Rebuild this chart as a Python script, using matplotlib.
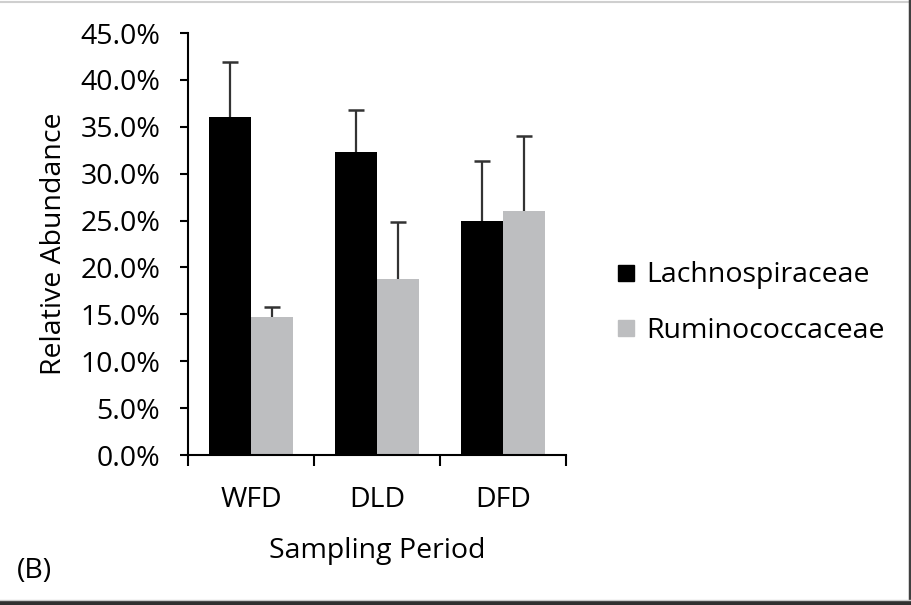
import matplotlib.pyplot as plt
from matplotlib.lines import Line2D
import numpy as np

# Relative abundance of the two families per sampling period (fractions)
periods = ['WFD', 'DLD', 'DFD']
lachno = [0.360, 0.323, 0.250]
lachno_err = [0.059, 0.045, 0.063]
rumino = [0.147, 0.188, 0.260]
rumino_err = [0.011, 0.060, 0.080]
yticks = [0.0, 0.05, 0.10, 0.15, 0.20, 0.25, 0.30, 0.35, 0.40, 0.45]

plt.rcParams['font.family'] = ['Open Sans', 'DejaVu Sans']
FS = 20.5

fig = plt.figure(figsize=(9.12, 6.05), dpi=100)
ax = fig.add_axes([188 / 912, 150 / 605, 378 / 912, 422 / 605])

x = np.arange(len(periods))
w = 1 / 3
err_kw = dict(ecolor='#333333', elinewidth=1.6, capsize=5.8, capthick=1.8)
b1 = ax.bar(x - w / 2, lachno, w, color='black',
            yerr=[np.zeros(3), lachno_err], error_kw=err_kw)
b2 = ax.bar(x + w / 2, rumino, w, color='#bdbec0',
            yerr=[np.zeros(3), rumino_err], error_kw=err_kw)
# only the upper half of each error bar gets a cap
for b in (b1, b2):
    b.errorbar.lines[1][0].set_visible(False)

ax.set_xlim(-0.5, 2.5)
ax.set_ylim(0, 0.45)
ax.set_yticks(yticks)
ax.set_yticklabels(['%.1f%%' % (v * 100) for v in yticks], fontsize=FS)
ax.set_xticks([-0.5, 0.5, 1.5, 2.5])
ax.set_xticklabels([])
ax.set_xticks(x, minor=True)
ax.set_xticklabels(periods, minor=True, fontsize=FS)
ax.tick_params(axis='x', which='minor', length=0, pad=22)
ax.tick_params(axis='x', which='major', direction='out', length=8, width=1.5)
ax.tick_params(axis='y', direction='out', length=6, width=1.5, pad=14)

for side in ['top', 'right']:
    ax.spines[side].set_visible(False)
for side in ['left', 'bottom']:
    ax.spines[side].set_linewidth(1.5)

ax.set_ylabel('Relative Abundance', fontsize=FS, labelpad=9)
ax.set_xlabel('Sampling Period', fontsize=FS, labelpad=17)

handles = [Line2D([], [], marker='s', linestyle='none', markersize=11.5,
                  color='black'),
           Line2D([], [], marker='s', linestyle='none', markersize=11.5,
                  color='#bdbec0')]
fig.legend(handles, ['Lachnospiraceae', 'Ruminococcaceae'],
           loc='center left', bbox_to_anchor=(589 / 912, 302 / 605),
           frameon=False, fontsize=FS, handlelength=0.8, handletextpad=0.3,
           labelspacing=0.95)

fig.text(17 / 912, 1 - 571 / 605, '(B)', fontsize=FS, va='center')

# thin frame around the panel
fig.add_artist(Line2D([0, 1], [1 - 1.5 / 605] * 2, color='#cfcfcf', lw=1.5,
                      transform=fig.transFigure))
fig.add_artist(Line2D([1 - 1.5 / 912] * 2, [0, 1], color='#404040', lw=2.5,
                      transform=fig.transFigure))
fig.add_artist(Line2D([0, 1], [2 / 605] * 2, color='#303030', lw=3,
                      transform=fig.transFigure))
fig.add_artist(Line2D([0, 1], [5 / 605] * 2, color='#cccccc', lw=1,
                      transform=fig.transFigure))

fig.savefig('out.png', dpi=100)
